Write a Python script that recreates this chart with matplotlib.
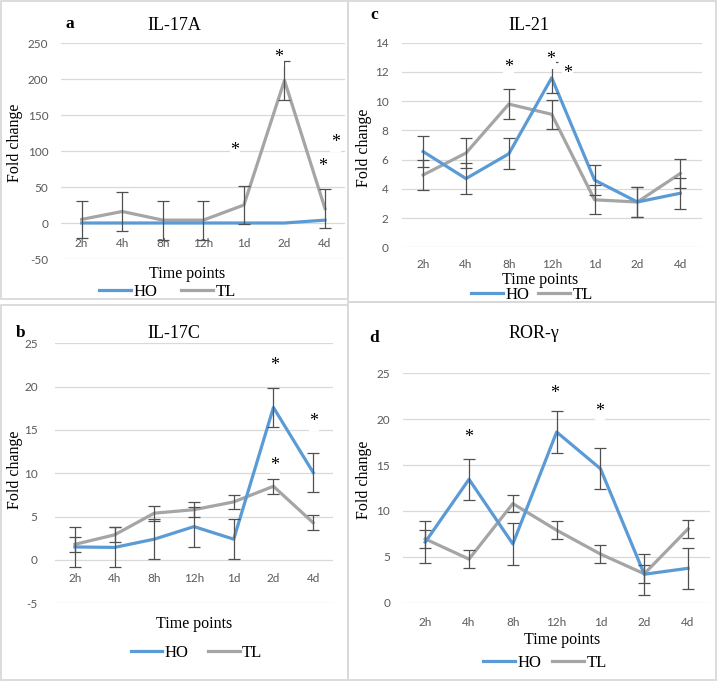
import numpy as np
import matplotlib
matplotlib.use('Agg')
import matplotlib.pyplot as plt
from matplotlib.patches import Rectangle

plt.rcParams['axes.unicode_minus'] = False

hours = ['2h', '4h', '8h', '12h', '1d', '2d', '4d']

# a: IL-17A
il17a_ho = [0, 0, 0, 0, 0, 0, 4]
il17a_tl = [5, 16, 4, 4, 25, 198, 20]
il17a_tl_err = [26, 27, 27, 27, 27, 27, 27]

# b: IL-17C
il17c_ho = [1.5, 1.45, 2.4, 3.85, 2.4, 17.6, 10.1]
il17c_tl = [1.8, 2.9, 5.4, 5.8, 6.7, 8.5, 4.3]
il17c_ho_err = [2.3, 2.3, 2.3, 2.3, 2.3, 2.3, 2.3]
il17c_tl_err = [0.85, 0.85, 0.85, 0.85, 0.85, 0.85, 0.85]

# c: IL-21
il21_ho = [6.55, 4.7, 6.4, 11.6, 4.6, 3.1, 3.7]
il21_tl = [4.95, 6.45, 9.8, 9.1, 3.25, 3.1, 5.05]
il21_ho_err = [1.05, 1.05, 1.05, 1.05, 1.05, 1.05, 1.05]
il21_tl_err = [1.0, 1.0, 1.0, 1.0, 1.0, 1.0, 1.0]

# d: ROR-gamma
rorg_ho = [6.6, 13.45, 6.4, 18.6, 14.6, 3.1, 3.75]
rorg_tl = [6.95, 4.75, 10.8, 7.9, 5.3, 3.15, 8.05]
rorg_ho_err = [2.25, 2.25, 2.25, 2.25, 2.25, 2.25, 2.25]
rorg_tl_err = [0.95, 0.95, 0.95, 0.95, 0.95, 0.95, 0.95]

# significance marks (category position, value)
stars_a = [(3.78, 107), (4.85, 236), (6.25, 118), (5.93, 85)]
stars_b = [(5.04, 23.0), (5.04, 11.4), (6.02, 16.5)]
stars_c = [(2.0, 12.6), (2.98, 13.15), (3.37, 12.2)]
stars_d = [(1.0, 18.5), (2.96, 23.35), (3.99, 21.4)]

HO_COLOR = '#5b9bd5'
TL_COLOR = '#a5a5a5'
ERR_COLOR = '#505050'
GRID = '#d9d9d9'
SERIF = 'Liberation Serif'

W, H = 720, 681


def px_rect(l, t, r, b):
    return [l / W, 1 - b / H, (r - l) / W, (b - t) / H]


def fxy(x, y):
    return (x / W, 1 - y / H)


def panel(fig, rect, ylim, ystep, ho, tl, ho_err, tl_err, title, title_xy, letter, letter_xy,
          ylabel_xy, xlabel_xy, leg_xy, colsp, stars, xpad, ypad):
    ax = fig.add_axes(px_rect(*rect))
    x = np.arange(len(hours))
    tl_line, = ax.plot(x, tl, color=TL_COLOR, lw=2.3, zorder=2, solid_joinstyle='round')
    ho_line, = ax.plot(x, ho, color=HO_COLOR, lw=2.3, zorder=3, solid_joinstyle='round')
    ax.errorbar(x, tl, yerr=tl_err, fmt='none', ecolor=ERR_COLOR, elinewidth=0.9,
                capsize=4.3, capthick=0.9, zorder=4)
    if ho_err is not None:
        ax.errorbar(x, ho, yerr=ho_err, fmt='none', ecolor=ERR_COLOR, elinewidth=0.9,
                    capsize=4.3, capthick=0.9, zorder=4)

    ax.set_xlim(-0.5, len(hours) - 0.5)
    ax.set_ylim(*ylim)
    ticks = np.arange(ylim[0], ylim[1] + ystep / 2, ystep)
    ax.set_yticks(ticks, ['%d' % t for t in ticks])
    ax.set_xticks(x, hours)
    ax.yaxis.grid(True, color=GRID, lw=0.9)
    ax.set_axisbelow(True)
    for s in ax.spines.values():
        s.set_visible(False)
    ax.spines['bottom'].set_position(('data', 0))
    ax.tick_params(length=0, labelsize=8.5, labelcolor='#595959')
    ax.tick_params(axis='x', pad=xpad)
    ax.tick_params(axis='y', pad=ypad)
    for lab in ax.get_xticklabels() + ax.get_yticklabels():
        lab.set_family('Lato')

    for sx, sy in stars:
        ax.annotate('*', (sx, sy), xytext=(0, -6.6), textcoords='offset points',
                    ha='center', va='baseline', fontsize=13, family=SERIF, zorder=6,
                    bbox=dict(boxstyle='square,pad=0.05', fc='white', ec='none'))

    fig.text(*fxy(*title_xy), title, ha='center', va='baseline', fontsize=13, family=SERIF)
    fig.text(*fxy(*letter_xy), letter, ha='left', va='baseline', fontsize=12.5,
             family=SERIF, weight='bold')
    fig.text(*fxy(*ylabel_xy), 'Fold change', ha='center', va='center', rotation=90,
             fontsize=11.5, family=SERIF)
    fig.text(*fxy(*xlabel_xy), 'Time points', ha='center', va='baseline', fontsize=11.5,
             family=SERIF)
    ax.legend([ho_line, tl_line], ['HO', 'TL'], loc='center', bbox_to_anchor=fxy(*leg_xy),
              bbox_transform=fig.transFigure, ncol=2, frameon=False,
              prop={'family': SERIF, 'size': 12}, handlelength=1.9, handletextpad=0.15,
              columnspacing=colsp, borderpad=0, borderaxespad=0)
    return ax


fig = plt.figure(figsize=(7.2, 6.81), dpi=100)

# panel frames
for l, t, r, b in [(1, 1, 348, 299), (348, 1, 716, 302), (1, 305, 348, 680), (348, 302, 716, 680)]:
    fig.add_artist(Rectangle(fxy(l, b), (r - l) / W, (b - t) / H, transform=fig.transFigure,
                             fill=False, ec='#d9d9d9', lw=1.3))

panel(fig, (61.4, 43, 345.3, 259), (-50, 250), 50, il17a_ho, il17a_tl, None, il17a_tl_err,
      'IL-17A', (174, 30), 'a', (65, 28), (15, 143), (186.7, 278), (167.5, 292), 1.45,
      stars_a, 11, 9.5)

panel(fig, (401.7, 42.7, 701.7, 247.3), (0, 14), 2, il21_ho, il21_tl, il21_ho_err, il21_tl_err,
      'IL-21', (529, 30.5), 'c', (370, 19.3), (364, 148), (540, 284), (532, 295), 0.55,
      stars_c, 8.5, 9.5)

panel(fig, (55, 343.3, 333, 603.3), (-5, 25), 5, il17c_ho, il17c_tl, il17c_ho_err, il17c_tl_err,
      'IL-17C', (174, 337.7), 'b', (16, 336.7), (15, 470), (193.7, 628), (196.5, 652.7), 1.15,
      stars_b, 9.5, 12.5)

panel(fig, (403.3, 373.3, 710, 602.7), (0, 25), 5, rorg_ho, rorg_tl, rorg_ho_err, rorg_tl_err,
      'ROR-\u03b3', (534, 338.3), 'd', (369.3, 341.7), (364, 480), (561.7, 644), (545, 662.7), 0.65,
      stars_d, 10, 9.5)

fig.savefig('out.png', dpi=100, facecolor='white')
